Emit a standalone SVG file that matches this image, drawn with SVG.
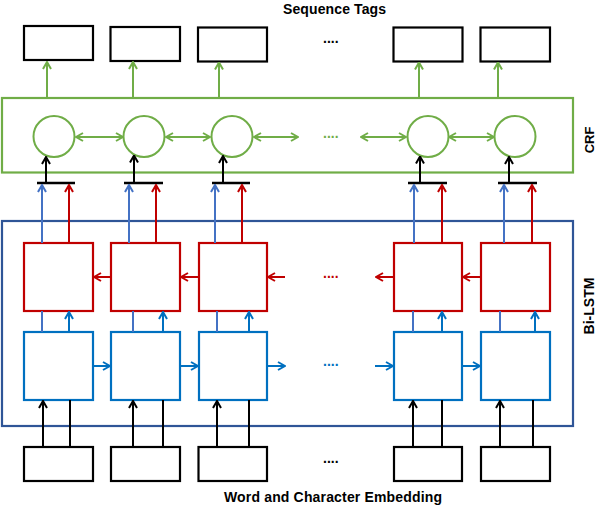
<svg xmlns="http://www.w3.org/2000/svg" width="596" height="508" viewBox="0 0 596 508">
<style>
.lbl{font-family:"Liberation Sans",Arial,sans-serif;font-weight:bold;font-size:13px;fill:#000}
.big{font-size:14px}
.dots{font-family:"Liberation Sans",Arial,sans-serif;font-weight:bold;font-size:14px}
.box{fill:#fff;stroke:#000;stroke-width:2.2}
.rbox{fill:#fff;stroke:#c00000;stroke-width:2.2}
.bbox{fill:#fff;stroke:#0070c0;stroke-width:2.2}
.circ{fill:#fff;stroke:#70ad47;stroke-width:2}
.g{stroke:#70ad47;stroke-width:2;fill:none}
.k{stroke:#000;stroke-width:2;fill:none}
.r{stroke:#c00000;stroke-width:2;fill:none}
.b{stroke:#0070c0;stroke-width:2;fill:none}
.lb{stroke:#4472c4;stroke-width:2;fill:none}
</style>
<defs>
<marker id="mg" viewBox="0 0 10 10" refX="9" refY="5" markerWidth="10" markerHeight="10" markerUnits="userSpaceOnUse" orient="auto-start-reverse"><path d="M2,1 L9,5 L2,9" fill="none" stroke="#70ad47" stroke-width="2"/></marker>
<marker id="mk" viewBox="0 0 10 10" refX="9" refY="5" markerWidth="10" markerHeight="10" markerUnits="userSpaceOnUse" orient="auto-start-reverse"><path d="M2,1 L9,5 L2,9" fill="none" stroke="#000" stroke-width="2"/></marker>
<marker id="mr" viewBox="0 0 10 10" refX="9" refY="5" markerWidth="10" markerHeight="10" markerUnits="userSpaceOnUse" orient="auto-start-reverse"><path d="M2,1 L9,5 L2,9" fill="none" stroke="#c00000" stroke-width="2"/></marker>
<marker id="mb" viewBox="0 0 10 10" refX="9" refY="5" markerWidth="10" markerHeight="10" markerUnits="userSpaceOnUse" orient="auto-start-reverse"><path d="M2,1 L9,5 L2,9" fill="none" stroke="#0070c0" stroke-width="2"/></marker>
<marker id="mlb" viewBox="0 0 10 10" refX="9" refY="5" markerWidth="10" markerHeight="10" markerUnits="userSpaceOnUse" orient="auto-start-reverse"><path d="M2,1 L9,5 L2,9" fill="none" stroke="#4472c4" stroke-width="2"/></marker>
</defs>

<text class="lbl big" x="283" y="14" textLength="103">Sequence Tags</text>
<text class="lbl big" x="224" y="502" textLength="218">Word and Character Embedding</text>

<g id="crf">
<rect x="2" y="98" width="571" height="74.5" fill="none" stroke="#70ad47" stroke-width="2.2"/>
<text class="lbl" transform="translate(594,140) rotate(-90)" text-anchor="middle">CRF</text>
</g>
<g id="bilstm">
<rect x="2" y="221" width="571" height="205" fill="none" stroke="#2f5597" stroke-width="2.2"/>
<text class="lbl big" transform="translate(594,306) rotate(-90)" text-anchor="middle">Bi-LSTM</text>
</g>

<g id="tags">
<rect id="tag1" class="box" x="24" y="26" width="69" height="34"/>
<rect id="tag2" class="box" x="110.5" y="27" width="69.5" height="34"/>
<rect id="tag3" class="box" x="198" y="27.5" width="69" height="34"/>
<rect id="tag4" class="box" x="393.5" y="27.5" width="69" height="34"/>
<rect id="tag5" class="box" x="480.5" y="27.5" width="69.5" height="34"/>
</g>

<g id="crfnodes">
<circle id="c1" class="circ" cx="54" cy="136.5" r="20.5"/>
<circle id="c2" class="circ" cx="144" cy="136.5" r="20.5"/>
<circle id="c3" class="circ" cx="232" cy="136.5" r="20.5"/>
<circle id="c4" class="circ" cx="428" cy="136.5" r="20.5"/>
<circle id="c5" class="circ" cx="515" cy="136.5" r="20.5"/>
</g>

<g id="lstmback">
<rect id="r1" class="rbox" x="24" y="243" width="69" height="68"/>
<rect id="r2" class="rbox" x="111" y="243" width="69" height="68"/>
<rect id="r3" class="rbox" x="199" y="243" width="68" height="68"/>
<rect id="r4" class="rbox" x="394" y="243" width="68" height="68"/>
<rect id="r5" class="rbox" x="481" y="243" width="69" height="68"/>
</g>
<g id="lstmfwd">
<rect id="f1" class="bbox" x="24" y="332" width="69" height="68"/>
<rect id="f2" class="bbox" x="111" y="332" width="69" height="68"/>
<rect id="f3" class="bbox" x="199" y="332" width="68" height="68"/>
<rect id="f4" class="bbox" x="394" y="332" width="68" height="68"/>
<rect id="f5" class="bbox" x="481" y="332" width="69" height="68"/>
</g>

<g id="embeddings">
<rect id="e1" class="box" x="24" y="447" width="69" height="34"/>
<rect id="e2" class="box" x="111" y="447" width="69" height="34"/>
<rect id="e3" class="box" x="198.5" y="447" width="68.5" height="34"/>
<rect id="e4" class="box" x="394" y="447" width="68" height="34"/>
<rect id="e5" class="box" x="481" y="447" width="69" height="34"/>
</g>

<g id="dots">
<text class="dots" x="323" y="43" fill="#000">....</text>
<text class="dots" x="323" y="138" fill="#70ad47">....</text>
<text class="dots" x="323" y="278" fill="#c00000">....</text>
<text class="dots" x="323" y="366" fill="#0070c0">....</text>
<text class="dots" x="323" y="463" fill="#000">....</text>
</g>

<g id="connectors">
<line class="g" x1="47" y1="98" x2="47" y2="62" marker-end="url(#mg)"/>
<line class="g" x1="133" y1="98" x2="133" y2="62" marker-end="url(#mg)"/>
<line class="g" x1="219" y1="98" x2="219" y2="62.5" marker-end="url(#mg)"/>
<line class="g" x1="419" y1="98" x2="419" y2="62.5" marker-end="url(#mg)"/>
<line class="g" x1="498" y1="98" x2="498" y2="62.5" marker-end="url(#mg)"/>
<line class="g" x1="76" y1="137" x2="123" y2="137" marker-start="url(#mg)" marker-end="url(#mg)"/>
<line class="g" x1="166" y1="137" x2="210" y2="137" marker-start="url(#mg)" marker-end="url(#mg)"/>
<line class="g" x1="254" y1="137" x2="298" y2="137" marker-start="url(#mg)" marker-end="url(#mg)"/>
<line class="g" x1="361" y1="137" x2="406" y2="137" marker-start="url(#mg)" marker-end="url(#mg)"/>
<line class="g" x1="449" y1="137" x2="494" y2="137" marker-start="url(#mg)" marker-end="url(#mg)"/>
<g stroke="#000" stroke-width="2.5">
<line x1="37" y1="183" x2="75" y2="183"/>
<line x1="124" y1="183" x2="163" y2="183"/>
<line x1="212" y1="183" x2="250" y2="183"/>
<line x1="408" y1="183" x2="447" y2="183"/>
<line x1="498" y1="183" x2="537" y2="183"/>
</g>
<line class="k" x1="46" y1="183" x2="46" y2="157" marker-end="url(#mk)"/>
<line class="k" x1="134" y1="183" x2="134" y2="155.5" marker-end="url(#mk)"/>
<line class="k" x1="223" y1="183" x2="223" y2="156" marker-end="url(#mk)"/>
<line class="k" x1="420" y1="183" x2="420" y2="156.5" marker-end="url(#mk)"/>
<line class="k" x1="509" y1="183" x2="509" y2="157" marker-end="url(#mk)"/>
<line class="lb" x1="42" y1="243" x2="42" y2="185" marker-end="url(#mlb)"/>
<line class="r" x1="69" y1="243" x2="69" y2="185" marker-end="url(#mr)"/>
<line class="lb" x1="129" y1="243" x2="129" y2="185" marker-end="url(#mlb)"/>
<line class="r" x1="156" y1="243" x2="156" y2="185" marker-end="url(#mr)"/>
<line class="lb" x1="215" y1="243" x2="215" y2="185" marker-end="url(#mlb)"/>
<line class="r" x1="242" y1="243" x2="242" y2="185" marker-end="url(#mr)"/>
<line class="lb" x1="414" y1="243" x2="414" y2="185" marker-end="url(#mlb)"/>
<line class="r" x1="442" y1="243" x2="442" y2="185" marker-end="url(#mr)"/>
<line class="lb" x1="504" y1="243" x2="504" y2="185" marker-end="url(#mlb)"/>
<line class="r" x1="532" y1="243" x2="532" y2="185" marker-end="url(#mr)"/>
<line class="r" x1="111" y1="277" x2="94" y2="277" marker-end="url(#mr)"/>
<line class="r" x1="199" y1="277" x2="181" y2="277" marker-end="url(#mr)"/>
<line class="r" x1="285" y1="277" x2="268" y2="277" marker-end="url(#mr)"/>
<line class="r" x1="394" y1="277" x2="376" y2="277" marker-end="url(#mr)"/>
<line class="r" x1="481" y1="277" x2="463" y2="277" marker-end="url(#mr)"/>
<line class="b" x1="93" y1="366" x2="110" y2="366" marker-end="url(#mb)"/>
<line class="b" x1="180" y1="366" x2="198" y2="366" marker-end="url(#mb)"/>
<line class="b" x1="267" y1="366" x2="285" y2="366" marker-end="url(#mb)"/>
<line class="b" x1="375" y1="366" x2="393" y2="366" marker-end="url(#mb)"/>
<line class="b" x1="462" y1="366" x2="480" y2="366" marker-end="url(#mb)"/>
<line class="lb" x1="42" y1="332" x2="42" y2="311"/>
<line class="b" x1="69" y1="332" x2="69" y2="312" marker-end="url(#mb)"/>
<line class="lb" x1="133" y1="332" x2="133" y2="311"/>
<line class="b" x1="163" y1="332" x2="163" y2="312" marker-end="url(#mb)"/>
<line class="lb" x1="217" y1="332" x2="217" y2="311"/>
<line class="b" x1="249" y1="332" x2="249" y2="312" marker-end="url(#mb)"/>
<line class="lb" x1="413" y1="332" x2="413" y2="311"/>
<line class="b" x1="442" y1="332" x2="442" y2="312" marker-end="url(#mb)"/>
<line class="lb" x1="500" y1="332" x2="500" y2="311"/>
<line class="b" x1="535" y1="332" x2="535" y2="312" marker-end="url(#mb)"/>
<line class="k" x1="43" y1="447" x2="43" y2="401" marker-end="url(#mk)"/>
<line class="k" x1="70" y1="447" x2="70" y2="400"/>
<line class="k" x1="133" y1="447" x2="133" y2="401" marker-end="url(#mk)"/>
<line class="k" x1="163" y1="447" x2="163" y2="400"/>
<line class="k" x1="217" y1="447" x2="217" y2="401" marker-end="url(#mk)"/>
<line class="k" x1="249" y1="447" x2="249" y2="400"/>
<line class="k" x1="413" y1="447" x2="413" y2="401" marker-end="url(#mk)"/>
<line class="k" x1="442" y1="447" x2="442" y2="400"/>
<line class="k" x1="500" y1="447" x2="500" y2="401" marker-end="url(#mk)"/>
<line class="k" x1="533" y1="447" x2="533" y2="400"/>
</g>
</svg>
